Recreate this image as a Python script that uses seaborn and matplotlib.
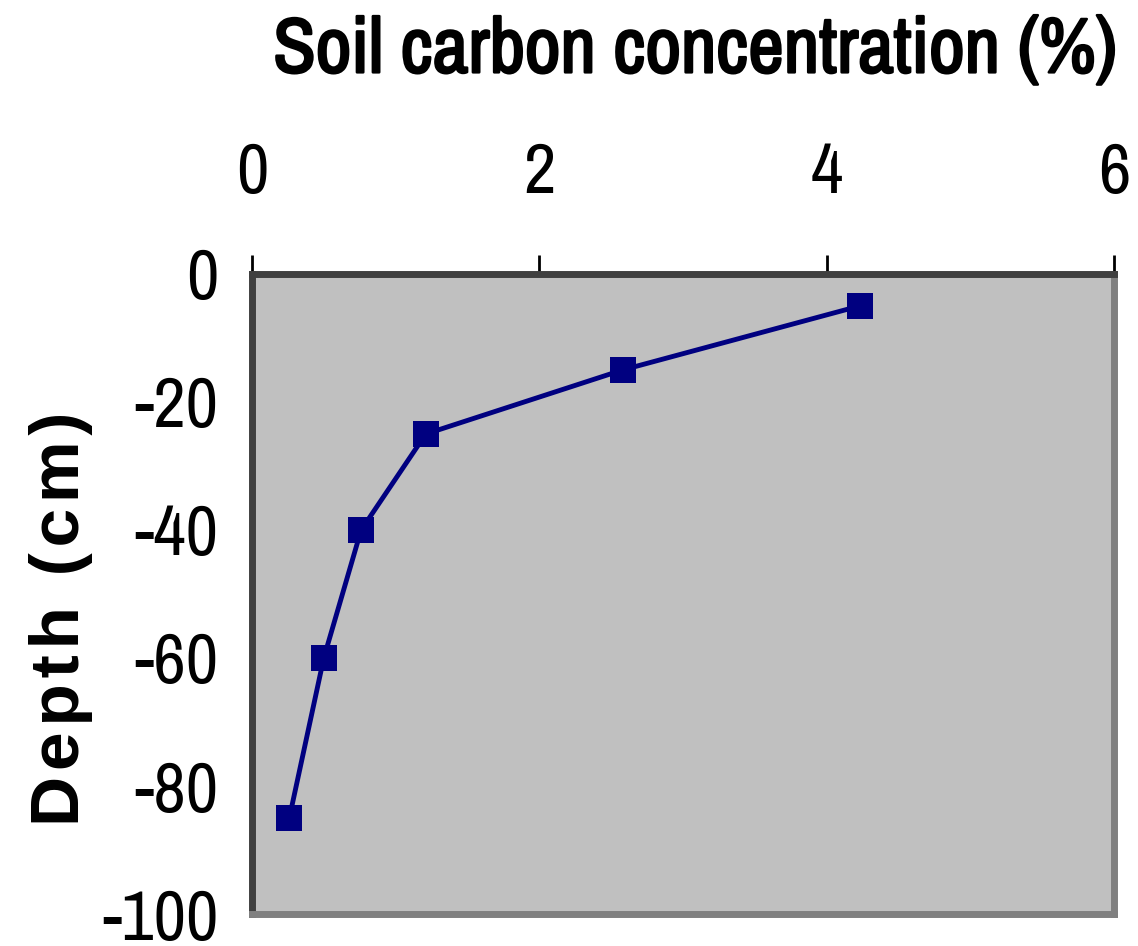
import matplotlib
matplotlib.use("Agg")
import matplotlib.pyplot as plt
from matplotlib import font_manager
import matplotlib.patheffects as pe
import seaborn as sns
import pandas as pd

# Data
carbon = [4.23, 2.58, 1.21, 0.76, 0.50, 0.26]
depth = [-5, -15, -25, -40, -60, -85]
x_ticks = [0, 2, 4, 6]
y_ticks = [0, -20, -40, -60, -80, -100]

df = pd.DataFrame({"carbon": carbon, "depth": depth})

# look for a narrow face, like the Arial Narrow of the original
fonts = font_manager.fontManager.ttflist
narrow = sorted({f.name for f in fonts
                 if "narrow" in f.name.lower() or "condensed" in f.name.lower()})


def is_bold(f):
    w = f.weight
    if isinstance(w, str):
        return "bold" in w.lower()
    return w >= 600


narrow_bold = [f.fname for f in fonts
               if f.name in narrow[:1] and is_bold(f) and f.style == "normal"]

sns.set_style("white")
plt.rcParams["font.family"] = narrow[:1] + ["Liberation Sans", "DejaVu Sans"]
plt.rcParams["axes.unicode_minus"] = False
plt.rcParams["text.color"] = "black"
plt.rcParams["xtick.color"] = "black"
plt.rcParams["ytick.color"] = "black"
plt.rcParams["axes.labelcolor"] = "black"

fig = plt.figure(figsize=(11.38, 9.46), dpi=100)
ax = fig.add_axes([0.2214, 0.0338, 0.7575, 0.6766])
ax.set_facecolor("#C0C0C0")

sns.lineplot(data=df, x="carbon", y="depth", sort=False, color="#000080",
             linewidth=3.5, marker="s", markersize=19, markeredgewidth=0,
             ax=ax)

ax.set_xlim(0, 6)
ax.set_ylim(-100, 0)
ax.set_xticks(x_ticks)
ax.set_yticks(y_ticks)
ax.xaxis.tick_top()
ax.xaxis.set_label_position("top")
ax.tick_params(axis="x", direction="out", length=14, width=2, pad=36,
               labelsize=51)
ax.tick_params(axis="y", direction="out", length=11, width=2, pad=13,
               labelsize=51)

for side in ["right", "bottom"]:
    ax.spines[side].set_color("#808080")
    ax.spines[side].set_linewidth(5)
for side in ["left", "top"]:
    ax.spines[side].set_color("#404040")
    ax.spines[side].set_linewidth(5)

# title above the top axis
if narrow_bold:
    title_font = font_manager.FontProperties(fname=narrow_bold[0], size=56)
    ax.set_xlabel("Soil carbon concentration (%)", fontproperties=title_font)
else:
    ax.set_xlabel("Soil carbon concentration (%)", fontsize=56,
                  fontweight="bold",
                  path_effects=[pe.withStroke(linewidth=1.8, foreground="black")])
ax.xaxis.set_label_coords(0.514, 1.315)
ax.xaxis.label.set_verticalalignment("baseline")

hs = "\u200a"
ax.set_ylabel(hs.join("Depth (cm)"), fontsize=50, fontweight="bold",
              family=["Liberation Sans", "DejaVu Sans"])
ax.yaxis.set_label_coords(-0.2216, 0.461)
ax.yaxis.label.set_verticalalignment("center")

fig.savefig("out.png", dpi=100)
